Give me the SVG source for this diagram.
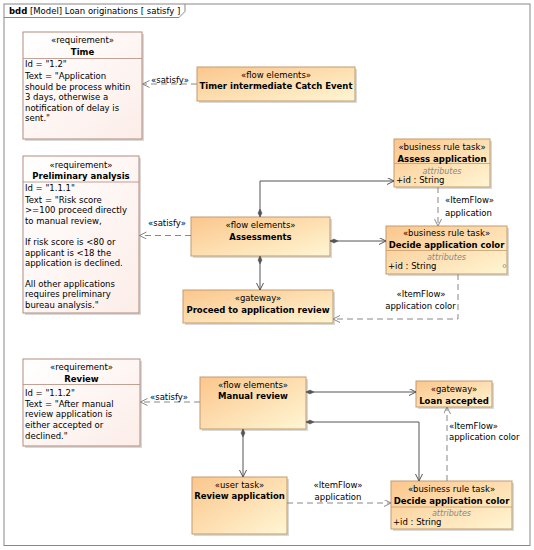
<svg xmlns="http://www.w3.org/2000/svg" width="534" height="550" viewBox="0 0 534 550">
<defs>
<linearGradient id="gFlow" x1="0" y1="0" x2="1" y2="1">
<stop offset="0" stop-color="#FBC68C"/>
<stop offset="1" stop-color="#FFF6D4"/>
</linearGradient>
<linearGradient id="gReq" x1="0" y1="0" x2="1" y2="1">
<stop offset="0" stop-color="#FFFFFF"/>
<stop offset="1" stop-color="#FCEDE8"/>
</linearGradient>
<marker id="arr" markerUnits="userSpaceOnUse" markerWidth="10" markerHeight="10" refX="7" refY="3.5" orient="auto">
<path d="M0,0 L7,3.5 L0,7" fill="none" stroke="#555" stroke-width="1"/>
</marker>
<marker id="arrD" markerUnits="userSpaceOnUse" markerWidth="10" markerHeight="10" refX="7" refY="3.5" orient="auto">
<path d="M0,0 L7,3.5 L0,7" fill="none" stroke="#888" stroke-width="1"/>
</marker>
<marker id="dia" markerUnits="userSpaceOnUse" markerWidth="10" markerHeight="6" refX="0" refY="3" orient="auto">
<path d="M0,3 L4,1 L8,3 L4,5 Z" fill="#555" stroke="#555" stroke-width="0.5"/>
</marker>
</defs>
<style>
text{font-family:"DejaVu Sans","Liberation Sans",sans-serif;font-size:8.5px;fill:#000}
.b{font-weight:bold}
.c{text-anchor:middle}
.att{font-style:italic;fill:#888;font-size:8px}
.flow{fill:url(#gFlow);stroke:#C39C6E;stroke-width:1}
.req{fill:url(#gReq);stroke:#B38C7C;stroke-width:1}
.sh{fill:#000;opacity:0.15}
.div{stroke:#C39C6E;stroke-width:0.8}
.rdiv{stroke:#B38C7C;stroke-width:0.8}
.sol{fill:none;stroke:#555;stroke-width:1}
.dash{fill:none;stroke:#888;stroke-width:1;stroke-dasharray:6,4}
</style>
<rect x="0" y="0" width="534" height="550" fill="#fff"/>
<g id="frame">
<rect x="4" y="4" width="526" height="541.5" fill="none" stroke="#888" stroke-width="1"/>
<path d="M4,17.5 H179 L185,11.5 V4" fill="none" stroke="#888" stroke-width="1"/>
<text x="9" y="14"><tspan class="b">bdd</tspan> [Model] Loan originations [ satisfy ]</text>
</g>

<g id="req-time">
<rect class="sh" x="25" y="34" width="119" height="107"/>
<rect class="req" x="23" y="32" width="119" height="107"/>
<line class="rdiv" x1="23" y1="58.5" x2="142" y2="58.5"/>
<text class="c" x="82.5" y="43">«requirement»</text>
<text class="c b" x="82.5" y="54.5">Time</text>
<text x="25" y="66.5">Id = "1.2"</text>
<text x="25" y="79">Text = "Application</text>
<text x="25" y="89.5">should be process whitin</text>
<text x="25" y="100">3 days, otherwise a</text>
<text x="25" y="110.6">notification of delay is</text>
<text x="25" y="121">sent."</text>
</g>

<g id="req-prelim">
<rect class="sh" x="25" y="158" width="116" height="157"/>
<rect class="req" x="23" y="156" width="116" height="157"/>
<line class="rdiv" x1="23" y1="182" x2="139" y2="182"/>
<text class="c" x="81" y="168">«requirement»</text>
<text class="c b" x="81" y="178.5">Preliminary analysis</text>
<text x="25" y="191">Id = "1.1.1"</text>
<text x="25" y="202.5">Text = "Risk score</text>
<text x="25" y="213.3">&gt;=100 proceed directly</text>
<text x="25" y="224">to manual review,</text>
<text x="25" y="245">If risk score is &lt;80 or</text>
<text x="25" y="255.7">applicant is &lt;18 the</text>
<text x="25" y="266.3">application is declined.</text>
<text x="25" y="286.7">All other applications</text>
<text x="25" y="297.3">requires preliminary</text>
<text x="25" y="308">bureau analysis."</text>
</g>

<g id="req-review">
<rect class="sh" x="25" y="361" width="117" height="87"/>
<rect class="req" x="23" y="359" width="117" height="87"/>
<line class="rdiv" x1="23" y1="384.5" x2="140" y2="384.5"/>
<text class="c" x="81.5" y="369.5">«requirement»</text>
<text class="c b" x="81.5" y="382">Review</text>
<text x="25" y="395.5">Id = "1.1.2"</text>
<text x="25" y="406.5">Text = "After manual</text>
<text x="25" y="417">review application is</text>
<text x="25" y="428">either accepted or</text>
<text x="25" y="439">declined."</text>
</g>

<g id="timer">
<rect class="sh" x="199" y="69" width="158" height="34"/>
<rect class="flow" x="197" y="67" width="158" height="34"/>
<text class="c" x="276" y="77.5">«flow elements»</text>
<text class="c b" x="276" y="89">Timer intermediate Catch Event</text>
</g>

<g id="assessments">
<rect class="sh" x="193" y="219" width="139" height="39"/>
<rect class="flow" x="191" y="217" width="139" height="39"/>
<text class="c" x="260.5" y="227.5">«flow elements»</text>
<text class="c b" x="260.5" y="239.5">Assessments</text>
</g>

<g id="assess-app">
<rect class="sh" x="396" y="141" width="96" height="48"/>
<rect class="flow" x="394" y="139" width="96" height="48"/>
<line class="div" x1="394" y1="163.5" x2="490" y2="163.5"/>
<text class="c" x="442" y="149.5">«business rule task»</text>
<text class="c b" x="442" y="161.5">Assess application</text>
<text class="c att" x="442" y="174">attributes</text>
<text x="396" y="183">+id : String</text>
</g>

<g id="decide1">
<rect class="sh" x="388" y="228" width="121" height="48"/>
<rect class="flow" x="386" y="226" width="121" height="48"/>
<line class="div" x1="386" y1="250.5" x2="507" y2="250.5"/>
<text class="c" x="446.5" y="235.5">«business rule task»</text>
<text class="c b" x="446.5" y="247.5">Decide application color</text>
<text class="c att" x="446.5" y="260">attributes</text>
<text x="388" y="269">+id : String</text>
<circle cx="504.5" cy="266" r="1.5" fill="none" stroke="#888" stroke-width="0.7"/>
</g>

<g id="proceed">
<rect class="sh" x="185" y="292" width="150" height="33"/>
<rect class="flow" x="183" y="290" width="150" height="33"/>
<text class="c" x="258" y="300.5">«gateway»</text>
<text class="c b" x="258" y="312.5">Proceed to application review</text>
</g>

<g id="manual">
<rect class="sh" x="202" y="379" width="106" height="52"/>
<rect class="flow" x="200" y="377" width="106" height="52"/>
<text class="c" x="253" y="387.5">«flow elements»</text>
<text class="c b" x="253" y="399">Manual review</text>
</g>

<g id="loan">
<rect class="sh" x="418" y="383" width="76" height="26"/>
<rect class="flow" x="416" y="381" width="76" height="26"/>
<text class="c" x="454" y="391.5">«gateway»</text>
<text class="c b" x="454" y="403.5">Loan accepted</text>
</g>

<g id="review-app">
<rect class="sh" x="194" y="479" width="95" height="57"/>
<rect class="flow" x="192" y="477" width="95" height="57"/>
<text class="c" x="239.5" y="487.5">«user task»</text>
<text class="c b" x="239.5" y="499">Review application</text>
</g>

<g id="decide2">
<rect class="sh" x="393" y="483" width="121" height="48"/>
<rect class="flow" x="391" y="481" width="121" height="48"/>
<line class="div" x1="391" y1="507" x2="512" y2="507"/>
<text class="c" x="451.5" y="491.5">«business rule task»</text>
<text class="c b" x="451.5" y="503.5">Decide application color</text>
<text class="c att" x="451.5" y="516">attributes</text>
<text x="393" y="525">+id : String</text>
</g>

<g id="connectors">
<path class="dash" d="M197,84 H142.5" marker-end="url(#arrD)"/>
<text x="151" y="83">«satisfy»</text>
<path class="dash" d="M191,235.5 H139.5" marker-end="url(#arrD)"/>
<text x="148" y="226">«satisfy»</text>
<path class="dash" d="M200,402 H140.5" marker-end="url(#arrD)"/>
<text x="150" y="399.5">«satisfy»</text>

<path class="sol" d="M260,217 V181 H394" marker-start="url(#dia)" marker-end="url(#arr)"/>
<path class="sol" d="M330,241 H386" marker-start="url(#dia)" marker-end="url(#arr)"/>
<path class="sol" d="M260,256 V290" marker-start="url(#dia)" marker-end="url(#arr)"/>

<path class="dash" d="M438,187 V226" marker-end="url(#arrD)"/>
<text x="445" y="202.5">«ItemFlow»</text>
<text x="445" y="215.5">application</text>
<path class="dash" d="M458,274 V319 H333" marker-end="url(#arrD)"/>
<text class="c" x="421" y="297">«ItemFlow»</text>
<text class="c" x="420.5" y="308.5">application color</text>

<path class="sol" d="M306,392 H416" marker-start="url(#dia)" marker-end="url(#arr)"/>
<path class="sol" d="M306,422 H419 V481" marker-start="url(#dia)" marker-end="url(#arr)"/>
<path class="sol" d="M243,429 V477" marker-start="url(#dia)" marker-end="url(#arr)"/>

<path class="dash" d="M287,503 H391" marker-end="url(#arrD)"/>
<text class="c" x="338" y="488">«ItemFlow»</text>
<text class="c" x="338" y="499.5">application</text>
<path class="dash" d="M447,481 V407" marker-end="url(#arrD)"/>
<text x="449" y="429">«ItemFlow»</text>
<text x="449" y="440">application color</text>
</g>
</svg>
